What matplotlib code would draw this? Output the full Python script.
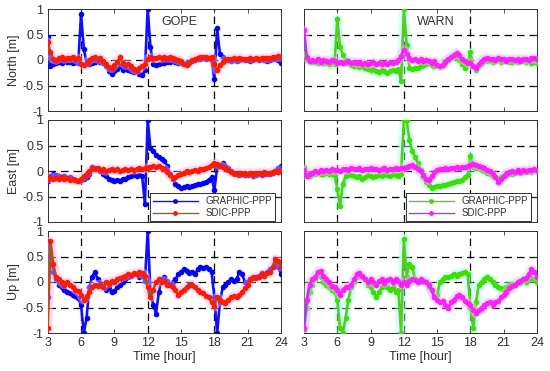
import numpy as np
import matplotlib
matplotlib.use("Agg")
import matplotlib.pyplot as plt

plt.rcParams['font.family'] = ['Liberation Sans', 'DejaVu Sans']

# ---------------- data ----------------
time_h = np.arange(3.0, 24.001, 0.25)

gope_north_graphic = [
    0.45, -0.12, -0.08, -0.05,
    -0.03, -0.05, -0.02, -0.04,
    -0.03, -0.05, -0.04, -0.06,
    0.90, 0.22, -0.06, -0.08,
    -0.05, -0.04, -0.02, -0.03,
    -0.05, -0.12, -0.22, -0.27,
    -0.22, -0.18, -0.12, -0.20,
    -0.15, -0.20, -0.22, -0.24,
    -0.22, -0.28, -0.30, -0.20,
    1.00, 0.25, -0.08, -0.10,
    -0.08, -0.06, -0.05, -0.04,
    -0.03, -0.02, -0.04, -0.05,
    -0.05, -0.08, -0.06, -0.03,
    -0.02, 0.00, 0.01, 0.02,
    0.03, 0.02, 0.03, 0.00,
    -0.38, 0.62, 0.12, 0.05,
    0.02, 0.00, -0.01, 0.00,
    -0.01, 0.00, 0.01, 0.00,
    0.00, -0.01, 0.00, 0.01,
    0.00, 0.01, 0.00, -0.01,
    0.00, 0.02, 0.01, 0.00,
    -0.06]
gope_north_sdic = [
    0.35, 0.15, 0.02, 0.00,
    0.03, 0.05, 0.02, 0.04,
    0.03, 0.05, 0.02, 0.03,
    -0.08, -0.10, -0.06, 0.00,
    0.03, 0.05, 0.02, 0.04,
    -0.02, -0.08, -0.14, -0.16,
    -0.10, -0.04, 0.05, -0.05,
    -0.10, -0.08, -0.12, -0.18,
    -0.20, -0.16, -0.12, -0.08,
    0.02, 0.05, 0.03, 0.04,
    0.05, 0.03, 0.06, 0.04,
    0.05, 0.03, 0.02, 0.00,
    -0.02, -0.08, -0.10, -0.05,
    0.00, 0.02, 0.04, 0.05,
    0.05, 0.06, 0.04, 0.05,
    -0.08, -0.20, -0.10, -0.04,
    0.00, 0.02, 0.01, 0.03,
    0.02, 0.03, 0.02, 0.01,
    0.02, 0.03, 0.02, 0.03,
    0.02, 0.03, 0.04, 0.03,
    0.04, 0.06, 0.05, 0.08,
    0.05]

warn_north_graphic = [
    0.12, 0.00, -0.02, -0.04,
    -0.03, -0.05, -0.04, -0.06,
    -0.05, -0.07, -0.06, -0.08,
    0.80, 0.25, 0.10, 0.00,
    -0.06, -0.10, -0.12, -0.10,
    -0.14, -0.12, -0.16, -0.18,
    -0.20, -0.18, -0.22, -0.24,
    -0.20, -0.22, -0.25, -0.22,
    -0.20, -0.22, -0.18, -0.42,
    1.00, 0.30, -0.15, -0.18,
    -0.15, -0.16, -0.12, -0.10,
    -0.08, -0.05, -0.10, -0.12,
    -0.10, -0.12, -0.08, -0.02,
    0.00, 0.05, 0.08, 0.03,
    0.00, -0.08, -0.15, -0.05,
    0.15, -0.12, -0.20, -0.10,
    -0.05, 0.00, -0.02, 0.00,
    -0.03, -0.02, 0.00, -0.03,
    -0.02, 0.00, -0.03, -0.04,
    -0.02, -0.03, 0.00, -0.02,
    -0.03, -0.02, -0.05, -0.03,
    -0.06]
warn_north_sdic = [
    0.58, 0.05, -0.02, 0.00,
    -0.02, 0.01, -0.03, 0.00,
    -0.01, -0.03, 0.00, -0.02,
    -0.05, -0.03, -0.06, -0.04,
    -0.02, -0.05, -0.03, -0.06,
    -0.04, -0.07, -0.05, -0.08,
    -0.06, -0.04, -0.08, -0.06,
    -0.08, -0.05, -0.07, -0.04,
    -0.06, -0.03, 0.00, 0.08,
    0.20, 0.12, 0.04, 0.00,
    0.02, -0.01, 0.01, -0.02,
    0.00, -0.02, -0.05, -0.02,
    -0.10, -0.12, -0.10, -0.03,
    0.02, 0.06, 0.10, 0.14,
    0.10, 0.02, -0.02, -0.05,
    -0.05, -0.12, -0.15, -0.08,
    -0.02, 0.02, 0.04, 0.01,
    0.02, 0.00, 0.03, 0.01,
    0.02, -0.01, 0.01, 0.02,
    0.00, 0.02, -0.01, 0.01,
    0.02, 0.00, 0.03, 0.04,
    0.01]

gope_east_graphic = [
    -0.20, -0.10, -0.05, -0.08,
    -0.10, -0.12, -0.10, -0.13,
    -0.12, -0.15, -0.18, -0.20,
    -0.18, -0.15, -0.12, -0.05,
    0.08, 0.05, 0.03, 0.00,
    -0.05, -0.10, -0.15, -0.18,
    -0.20, -0.18, -0.20, -0.15,
    -0.16, -0.12, -0.10, -0.08,
    -0.10, -0.08, -0.10, -0.65,
    1.00, 0.45, 0.40, 0.32,
    0.28, 0.24, 0.20, 0.10,
    -0.05, -0.15, -0.25, -0.30,
    -0.33, -0.32, -0.30, -0.31,
    -0.30, -0.28, -0.26, -0.25,
    -0.24, -0.22, -0.18, -0.12,
    -0.38, 0.08, 0.12, 0.15,
    0.10, 0.05, 0.00, -0.05,
    -0.06, -0.08, -0.05, -0.07,
    -0.08, -0.06, -0.09, -0.07,
    -0.06, -0.08, -0.05, -0.06,
    -0.05, -0.03, 0.00, 0.05,
    0.10]
gope_east_sdic = [
    -0.15, -0.12, -0.15, -0.13,
    -0.15, -0.12, -0.16, -0.14,
    -0.17, -0.15, -0.18, -0.20,
    -0.15, -0.10, -0.05, 0.00,
    0.05, 0.03, 0.05, 0.02,
    0.03, 0.00, 0.02, 0.04,
    0.01, 0.03, 0.00, 0.02,
    0.03, 0.01, 0.04, 0.02,
    0.03, 0.05, 0.04, 0.06,
    0.05, 0.07, 0.10, 0.08,
    0.10, 0.06, 0.03, -0.02,
    -0.08, -0.14, -0.12, -0.08,
    -0.05, -0.03, 0.00, -0.02,
    0.00, 0.02, 0.00, 0.03,
    0.03, 0.06, 0.08, 0.12,
    0.16, 0.14, 0.10, 0.08,
    0.05, 0.02, -0.02, -0.04,
    -0.05, -0.03, -0.06, -0.04,
    -0.05, -0.03, -0.06, -0.04,
    -0.03, -0.05, -0.02, -0.04,
    -0.03, -0.01, 0.00, -0.02,
    0.02]

warn_east_graphic = [
    0.08, -0.05, -0.10, -0.06,
    -0.05, -0.04, -0.06, -0.05,
    -0.04, -0.06, -0.05, -0.08,
    -0.35, -0.68, -0.25, -0.10,
    -0.05, -0.08, -0.10, -0.12,
    -0.10, -0.15, -0.12, -0.08,
    -0.10, -0.12, -0.10, -0.08,
    -0.10, -0.05, -0.08, -0.10,
    -0.06, -0.08, -0.10, -0.05,
    1.00, 1.00, 0.60, 0.40,
    0.28, 0.16, 0.02, -0.12,
    -0.22, -0.28, -0.33, -0.32,
    -0.30, -0.29, -0.28, -0.27,
    -0.25, -0.24, -0.22, -0.20,
    -0.20, -0.17, -0.12, -0.08,
    0.30, 0.08, 0.05, 0.06,
    0.02, 0.00, -0.04, -0.06,
    -0.10, -0.12, -0.15, -0.12,
    -0.10, -0.08, -0.06, -0.05,
    -0.04, -0.02, -0.03, -0.01,
    -0.02, 0.00, -0.01, 0.01,
    0.00]
warn_east_sdic = [
    0.02, -0.10, -0.06, -0.03,
    0.00, -0.02, 0.01, 0.00,
    0.02, 0.00, 0.03, 0.01,
    0.02, 0.00, 0.03, 0.04,
    0.02, 0.05, 0.03, 0.04,
    0.05, 0.02, 0.04, 0.03,
    0.05, 0.03, 0.04, 0.02,
    0.03, 0.05, 0.02, 0.04,
    0.03, 0.05, 0.04, 0.06,
    0.05, 0.08, 0.10, 0.12,
    0.08, 0.03, 0.00, -0.08,
    -0.15, -0.18, -0.10, -0.02,
    0.02, 0.04, 0.03, 0.05,
    0.04, 0.06, 0.05, 0.07,
    0.06, 0.08, 0.07, 0.10,
    0.12, 0.14, 0.12, 0.10,
    0.08, 0.05, 0.02, 0.00,
    -0.05, -0.12, -0.22, -0.15,
    -0.10, -0.05, -0.02, 0.00,
    -0.02, 0.01, -0.01, 0.02,
    0.00, 0.02, 0.01, 0.03,
    0.02]

gope_up_graphic = [
    -0.30, 0.50, 0.20, 0.05,
    -0.05, -0.10, -0.15, -0.20,
    -0.22, -0.25, -0.28, -0.32,
    -0.45, -1.00, -0.70, -0.10,
    0.10, 0.20, 0.05, -0.02,
    -0.10, -0.15, -0.12, -0.20,
    -0.18, -0.10, -0.05, 0.00,
    0.05, 0.10, 0.12, 0.15,
    0.15, 0.10, 0.12, 0.02,
    1.00, -0.20, -0.45, -0.62,
    -0.20, 0.05, 0.10, 0.02,
    -0.05, 0.00, 0.05, 0.15,
    0.20, 0.25, 0.22, 0.18,
    0.20, 0.15, 0.25, 0.30,
    0.28, 0.30, 0.25, 0.20,
    -0.30, -1.00, -0.40, -0.10,
    -0.05, 0.00, 0.05, 0.02,
    0.05, 0.20, 0.15, 0.00,
    0.00, 0.05, 0.10, 0.08,
    0.12, 0.18, 0.15, 0.20,
    0.25, 0.30, 0.38, 0.30,
    0.15]
gope_up_sdic = [
    -0.90, 0.80, 0.35, 0.10,
    0.05, 0.00, -0.05, 0.00,
    -0.05, -0.10, -0.15, -0.18,
    -0.25, -0.35, -0.28, -0.20,
    -0.10, -0.05, -0.08, -0.05,
    -0.10, 0.00, -0.03, 0.02,
    0.00, 0.05, 0.08, 0.10,
    0.12, 0.15, 0.14, 0.18,
    0.15, 0.20, 0.18, 0.12,
    -0.10, -0.30, -0.15, 0.00,
    0.05, 0.00, 0.02, -0.05,
    -0.05, -0.10, -0.15, -0.25,
    -0.20, -0.15, -0.10, -0.05,
    -0.05, -0.10, -0.15, -0.20,
    -0.22, -0.28, -0.30, -0.40,
    -0.48, -0.30, -0.35, -0.40,
    -0.42, -0.35, -0.30, -0.28,
    -0.30, -0.25, -0.20, -0.12,
    -0.05, 0.05, 0.08, 0.10,
    0.10, 0.15, 0.12, 0.18,
    0.20, 0.30, 0.45, 0.42,
    0.30]

warn_up_graphic = [
    -0.95, -0.50, -0.20, -0.05,
    0.05, 0.15, 0.10, 0.00,
    -0.05, -0.10, -0.15, -0.20,
    -0.35, -0.90, -1.00, -0.70,
    -0.35, -0.10, 0.00, 0.10,
    0.15, 0.10, 0.05, -0.05,
    -0.10, -0.20, -0.30, -0.20,
    -0.10, -0.05, -0.10, -0.15,
    -0.10, -0.20, -0.15, -1.00,
    0.85, 0.10, 0.35, 0.30,
    0.05, 0.02, 0.00, 0.02,
    0.00, -0.10, -0.15, -0.30,
    -0.25, 0.00, 0.05, 0.10,
    0.10, 0.12, 0.15, 0.12,
    0.15, 0.18, 0.20, 0.15,
    -0.50, -0.90, -0.40, -0.05,
    0.00, 0.05, 0.10, 0.05,
    0.00, -0.05, -0.10, -0.12,
    -0.15, -0.10, -0.05, -0.03,
    -0.05, 0.00, -0.02, 0.02,
    0.00, 0.05, 0.08, 0.05,
    0.00]
warn_up_sdic = [
    -0.90, -0.35, -0.05, 0.05,
    0.10, 0.20, 0.22, 0.12,
    0.05, 0.00, -0.08, -0.10,
    -0.15, -0.25, -0.15, -0.10,
    -0.10, -0.05, 0.05, 0.15,
    0.18, 0.12, 0.05, 0.00,
    0.05, 0.00, -0.05, 0.02,
    0.05, -0.02, 0.03, 0.05,
    0.00, 0.05, 0.02, -0.05,
    0.00, -0.05, 0.02, 0.05,
    0.03, 0.00, 0.05, 0.02,
    0.00, -0.05, -0.15, -0.30,
    -0.35, -0.40, -0.38, -0.45,
    -0.50, -0.40, -0.35, -0.28,
    -0.25, -0.30, -0.38, -0.42,
    -0.45, -0.55, -0.60, -0.55,
    -0.50, -0.45, -0.42, -0.40,
    -0.45, -0.40, -0.38, -0.30,
    -0.25, -0.20, -0.12, -0.08,
    -0.05, 0.00, 0.02, 0.05,
    0.08, 0.15, 0.25, 0.20,
    0.10]

station_names = ["GOPE", "WARN"]
component_labels = ["North [m]", "East [m]", "Up [m]"]
series_names = ["GRAPHIC-PPP", "SDIC-PPP"]
xtick_values = [3, 6, 9, 12, 15, 18, 21, 24]
ytick_values = [-1, -0.5, 0, 0.5, 1]
ytick_labels = ["-1", "-0.5", "0", "0.5", "1"]

data = {
    0: [(gope_north_graphic, gope_north_sdic), (gope_east_graphic, gope_east_sdic), (gope_up_graphic, gope_up_sdic)],
    1: [(warn_north_graphic, warn_north_sdic), (warn_east_graphic, warn_east_sdic), (warn_up_graphic, warn_up_sdic)],
}

# styles: (line colour, marker colour, halo colour)
styles = {
    0: [("#1010ff", "#0000ff", None), ("#b4501c", "#ff1a00", "#ffb0f0")],
    1: [("#55cc22", "#3be000", "#a8fff0"), ("#a040f0", "#ff20ff", "#ffb0f0")],
}

W, H = 550, 371
fig = plt.figure(figsize=(W / 100, H / 100), dpi=100)
col_x = [(47.7, 233.3), (304.0, 233.0)]
row_y = [9.0, 120.0, 231.0]
ph = 102.0
text_col = "#303030"

for c in range(2):
    for r in range(3):
        x0, w = col_x[c]
        y0 = row_y[r]
        ax = fig.add_axes([x0 / W, 1 - (y0 + ph) / H, w / W, ph / H])
        ax.set_xlim(3, 24)
        ax.set_ylim(-1, 1)
        for xv in [6, 12, 18]:
            ax.axvline(xv, color="k", lw=0.9, ls=(0, (6, 4)), zorder=1)
        for yv in [-0.5, 0, 0.5]:
            ax.axhline(yv, color="k", lw=0.9, ls=(0, (6, 4)), zorder=1)
        handles = []
        for k, vals in enumerate(data[c][r]):
            lc, mc, hc = styles[c][k]
            if hc is not None:
                ax.plot(time_h, vals, color=hc, lw=7, alpha=0.45, zorder=2 + k,
                        solid_capstyle="round")
            h, = ax.plot(time_h, vals, color=lc, lw=1.9, marker="o", ms=3.0,
                         mfc=mc, mec=mc, zorder=3 + k, label=series_names[k])
            handles.append(h)
        ax.set_xticks(xtick_values)
        ax.set_yticks(ytick_values)
        ax.tick_params(direction="in", length=3, width=0.6, top=True, right=True,
                       labelsize=9, colors=text_col, pad=3)
        for sp in ax.spines.values():
            sp.set_color(text_col)
            sp.set_linewidth(0.7)
        if c == 0:
            ax.set_yticklabels(ytick_labels)
            ax.set_ylabel(component_labels[r], fontsize=9, color=text_col, labelpad=2)
        else:
            ax.set_yticklabels([])
        if r == 2:
            ax.set_xticklabels([str(v) for v in xtick_values])
            ax.set_xlabel("Time [hour]", fontsize=9, color=text_col, labelpad=1)
        else:
            ax.set_xticklabels([])
        if r == 0:
            ax.text(13.2, 0.75, station_names[c], fontsize=9, color=text_col,
                    ha="left", va="center", zorder=10)
        if r == 1:
            leg = ax.legend(handles=handles, loc="lower right",
                            bbox_to_anchor=(0.974, 0.01), borderaxespad=0,
                            fontsize=7, handlelength=4.6, frameon=True,
                            fancybox=False, edgecolor=text_col, framealpha=1,
                            borderpad=0.3, labelspacing=0.2, handletextpad=0.8)
            leg.get_frame().set_linewidth(0.7)
            leg.set_zorder(20)
            for ln in leg.get_lines():
                ln.set_linewidth(1.0)
                ln.set_markersize(2.5)
            for t in leg.get_texts():
                t.set_color(text_col)

fig.savefig("out.png", dpi=100)
